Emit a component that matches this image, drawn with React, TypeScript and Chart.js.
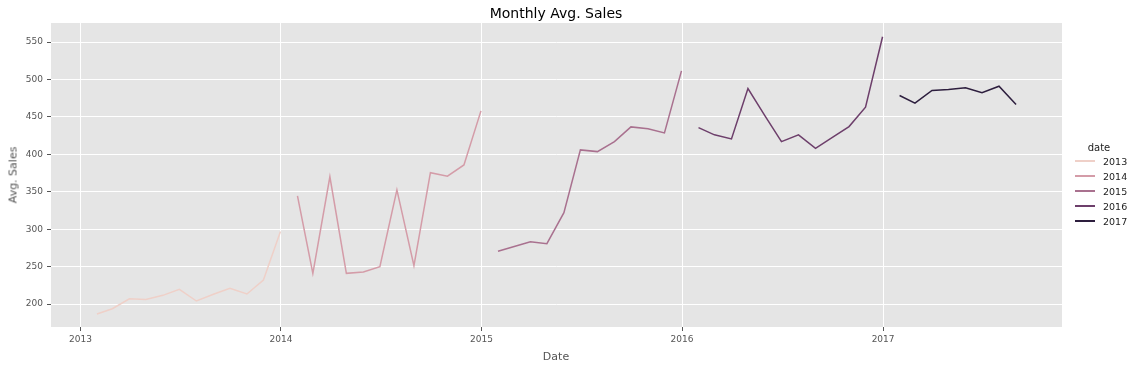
import React, { useEffect, useRef } from "react";
import { Chart, registerables } from "chart.js";

Chart.register(...registerables);

const years = [2013, 2014, 2015, 2016, 2017];
const colors = ["#efd0c8", "#d49ca8", "#a9718f", "#6d3f6b", "#2d1e3e"];

const sales2013 = [186.6, 193.7, 207.0, 206.0, 211.6, 219.6, 204.0, 213.0, 221.0, 213.4, 232.0, 297.0];
const sales2014 = [344.4, 241.0, 370.0, 241.0, 242.8, 250.0, 352.4, 251.2, 375.5, 370.7, 385.8, 458.0];
const sales2015 = [270.4, 276.6, 283.3, 280.6, 322.0, 405.9, 403.6, 417.0, 436.6, 434.0, 428.6, 511.5];
const sales2016 = [435.7, 426.0, 420.6, 487.8, 451.3, 417.0, 426.0, 408.0, 422.3, 437.0, 462.9, 557.0];
const sales2017 = [478.5, 468.3, 485.2, 486.5, 489.0, 482.4, 491.0, 466.6];

const seriesValues = [sales2013, sales2014, sales2015, sales2016, sales2017];
const xTickYears = [2013, 2014, 2015, 2016, 2017];
const yTicks = [200, 250, 300, 350, 400, 450, 500, 550];

const DAY = 86400000;
// month-end timestamp (pandas monthly resample labels)
const monthEnd = (y: number, m: number) => Date.UTC(y, m + 1, 0);

export default function App() {
  const ref = useRef<HTMLCanvasElement | null>(null);

  useEffect(() => {
    if (!ref.current) return;
    const datasets = years.map((y, i) => ({
      label: String(y),
      data: seriesValues[i].map((v, m) => ({ x: monthEnd(y, m), y: v })),
      borderColor: colors[i],
      backgroundColor: colors[i],
      borderWidth: 1.5,
      pointRadius: 0,
      tension: 0,
    }));
    const xs = datasets.flatMap((d) => d.data.map((p) => p.x));
    const xmin = Math.min(...xs);
    const xmax = Math.max(...xs);
    const xm = (xmax - xmin) * 0.05;

    const bgPlugin = {
      id: "bg",
      beforeDraw(chart: any) {
        const { ctx, chartArea } = chart;
        ctx.save();
        ctx.fillStyle = "#e5e5e5";
        ctx.fillRect(chartArea.left, chartArea.top, chartArea.right - chartArea.left, chartArea.bottom - chartArea.top);
        ctx.restore();
      },
    };

    const chart = new Chart(ref.current, {
      type: "line",
      data: { datasets },
      plugins: [bgPlugin],
      options: {
        animation: false,
        responsive: false,
        maintainAspectRatio: false,
        layout: { padding: { left: 0, top: 23, right: 74, bottom: 0 } },
        plugins: {
          legend: { display: false },
          tooltip: { enabled: false },
          title: { display: false },
        },
        scales: {
          x: {
            type: "linear",
            min: xmin - xm,
            max: xmax + xm,
            afterFit: (s: any) => {
              s.height = 42;
            },
            afterBuildTicks: (s: any) => {
              s.ticks = xTickYears.map((y) => ({ value: Date.UTC(y, 0, 1) }));
            },
            ticks: {
              callback: (v: any) => String(new Date(Number(v) + DAY).getUTCFullYear()),
              color: "#555555",
              font: { family: "DejaVu Sans", size: 9 },
              padding: 3,
              maxRotation: 0,
              autoSkip: false,
            },
            grid: { color: "#ffffff", lineWidth: 1, tickColor: "#555555", tickLength: 4, tickWidth: 1 },
            border: { display: false },
          },
          y: {
            type: "linear",
            min: 169.3,
            max: 575.4,
            afterFit: (s: any) => {
              s.width = 51;
            },
            afterBuildTicks: (s: any) => {
              s.ticks = yTicks.map((v) => ({ value: v }));
            },
            ticks: {
              color: "#555555",
              font: { family: "DejaVu Sans", size: 9 },
              padding: 4,
              autoSkip: false,
            },
            grid: { color: "#ffffff", lineWidth: 1, tickColor: "#555555", tickLength: 4, tickWidth: 1 },
            border: { display: false },
          },
        },
      },
    });
    return () => chart.destroy();
  }, []);

  const txt: React.CSSProperties = { position: "absolute", fontFamily: "DejaVu Sans", whiteSpace: "nowrap", fontWeight: "normal" };

  return (
    <div style={{ position: "absolute", left: 0, top: 0, width: 1136, height: 369, background: "#ffffff", overflow: "hidden" }}>
      <canvas ref={ref} width={1136} height={369} style={{ position: "absolute", left: 0, top: 0, width: 1136, height: 369 }} />
      <div style={{ ...txt, left: 556, top: 13, transform: "translate(-50%,-50%)", fontSize: 14, color: "#000" }}>Monthly Avg. Sales</div>
      <div style={{ ...txt, left: 556, top: 356, transform: "translate(-50%,-50%)", fontSize: 11, color: "#555" }}>Date</div>
      <div style={{ ...txt, left: 13, top: 175, transform: "translate(-50%,-50%) rotate(-90deg)", fontSize: 11, color: "#555" }}>Avg. Sales</div>
      <div style={{ ...txt, left: 1099, top: 147, transform: "translate(-50%,-50%)", fontSize: 10, color: "#222" }}>date</div>
      {years.map((y, i) => (
        <React.Fragment key={y}>
          <div style={{ position: "absolute", left: 1075, top: 160 + i * 15, width: 20, height: 2, background: colors[i] }} />
          <div style={{ ...txt, left: 1103, top: 161 + i * 15, transform: "translateY(-50%)", fontSize: 9.5, color: "#222" }}>{y}</div>
        </React.Fragment>
      ))}
    </div>
  );
}
